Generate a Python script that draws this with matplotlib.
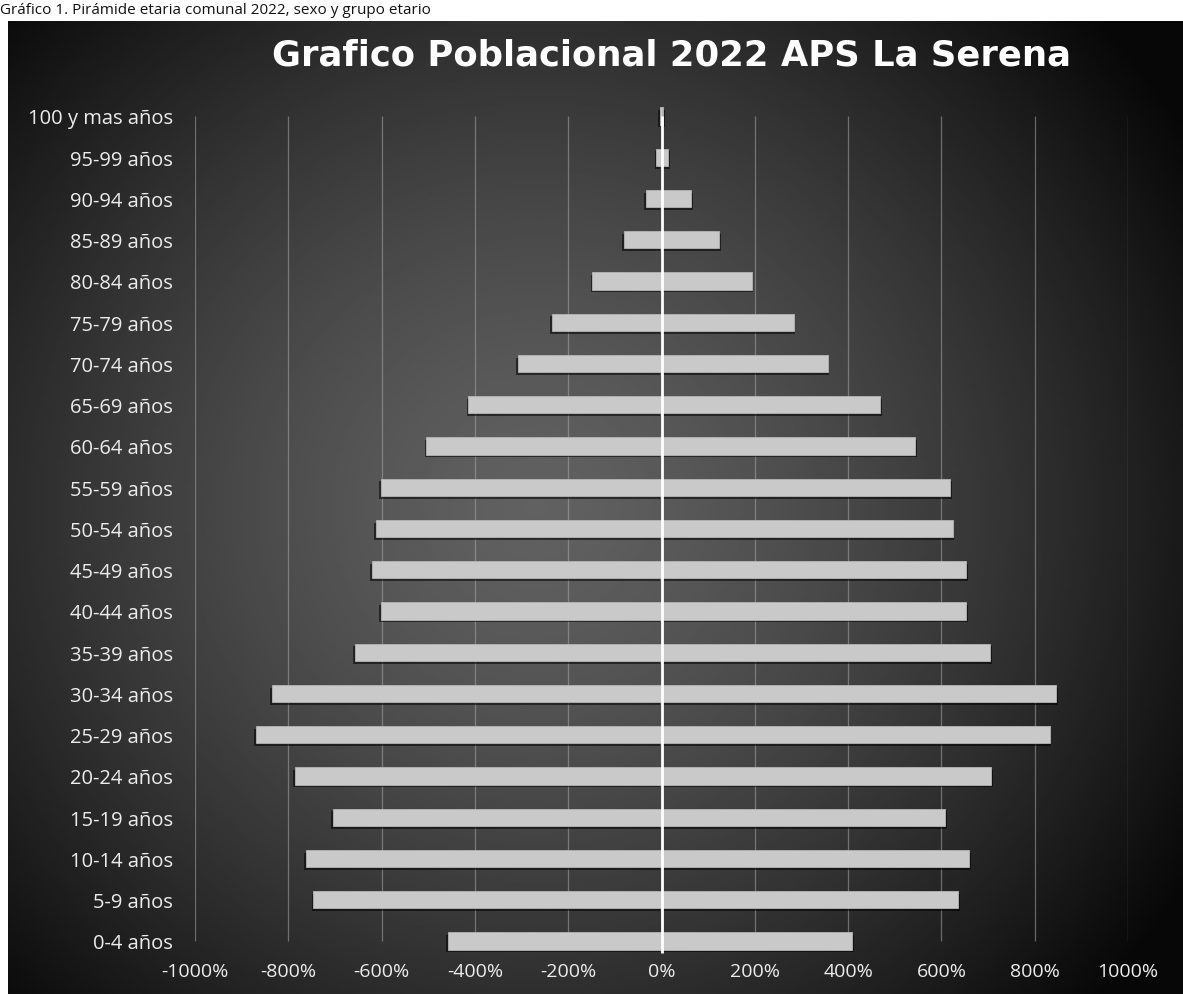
import numpy as np
import matplotlib
matplotlib.use("Agg")
import matplotlib.pyplot as plt

# ---- data ----
age_groups = ["0-4 años", "5-9 años", "10-14 años", "15-19 años", "20-24 años",
              "25-29 años", "30-34 años", "35-39 años", "40-44 años", "45-49 años",
              "50-54 años", "55-59 años", "60-64 años", "65-69 años", "70-74 años",
              "75-79 años", "80-84 años", "85-89 años", "90-94 años", "95-99 años",
              "100 y mas años"]
left_values = [-457, -746, -763, -705, -785, -870, -836, -658, -602, -620,
               -613, -602, -504, -414, -307, -234, -148, -81, -34, -11, -3]
right_values = [409, 635, 660, 607, 707, 832, 845, 705, 652, 652,
                624, 619, 544, 469, 356, 283, 193, 124, 64, 15, 3]
x_ticks = [-1000, -800, -600, -400, -200, 0, 200, 400, 600, 800, 1000]
x_tick_labels = [f"{t}%" for t in x_ticks]
title = "Grafico Poblacional 2022 APS La Serena"
caption = "Gráfico 1. Pirámide etaria comunal 2022, sexo y grupo etario"

plt.rcParams['font.family'] = ['Open Sans', 'DejaVu Sans']

W, H = 1183, 995
fig = plt.figure(figsize=(W / 100, H / 100), dpi=100)
fig.patch.set_facecolor("white")

# ---- dark gradient background (chart area) ----
bg_left, bg_top = 8 / W, 22 / H
ax_bg = fig.add_axes([bg_left, 0, 1 - bg_left, 1 - bg_top])
ax_bg.set_axis_off()
gx, gy = np.meshgrid(np.linspace(0, 1, 400), np.linspace(0, 1, 400))
r = np.sqrt(((gx - 0.45) / 0.62) ** 2 + ((gy - 0.50) / 0.72) ** 2)
shade = np.clip(0.38 - 0.33 * r ** 1.4, 0.03, 1)
ax_bg.imshow(shade, cmap="gray", vmin=0, vmax=1, extent=[0, 1, 0, 1],
             aspect="auto", origin="upper", interpolation="bilinear")
ax_bg.set_xlim(0, 1)
ax_bg.set_ylim(0, 1)

# caption in the white strip at the top
fig.text(0.0, 1 - 10 / H, caption, fontsize=11, color="#111111", ha="left",
         va="center")

# ---- main axes ----
ax = fig.add_axes([195 / W, 0.0326, 933 / W, 0.8706])
ax.patch.set_alpha(0)
y = np.arange(len(age_groups))
bh = 0.42

# shadows
ax.barh(y - 0.07, left_values, height=bh, left=-4, color="black", alpha=0.55, zorder=2)
ax.barh(y - 0.07, right_values, height=bh, left=4, color="black", alpha=0.55, zorder=2)
# bars
ax.barh(y, left_values, height=bh, color="#c9c9c9", edgecolor="#b5b5b5",
        linewidth=0.6, zorder=3)
ax.barh(y, right_values, height=bh, color="#c9c9c9", edgecolor="#b5b5b5",
        linewidth=0.6, zorder=3)

# gridlines span from first to last category (axis "on tick marks")
ax.vlines([t for t in x_ticks if t != 0], 0, len(age_groups) - 1,
          color="#a8a8a8", lw=0.9, alpha=0.55, zorder=1)
ax.vlines(0, -0.3, len(age_groups) - 1, color="white", lw=2, zorder=4)

ax.set_xlim(-1000, 1000)
ax.set_ylim(-0.5, 20.5)
ax.set_xticks(x_ticks)
ax.set_xticklabels(x_tick_labels)
ax.set_yticks(y)
ax.set_yticklabels(age_groups)
for s in ax.spines.values():
    s.set_visible(False)
ax.tick_params(axis="both", length=0, colors="#ececec")
ax.tick_params(axis="y", labelsize=14.5, pad=16)
ax.tick_params(axis="x", labelsize=14, pad=0)

fig.text(0.5676, 1 - 55 / H, title, fontsize=25.5, fontweight="bold", color="white",
         ha="center", va="center", family=["DejaVu Sans"])

fig.savefig("out.png", dpi=100, facecolor=fig.get_facecolor())
